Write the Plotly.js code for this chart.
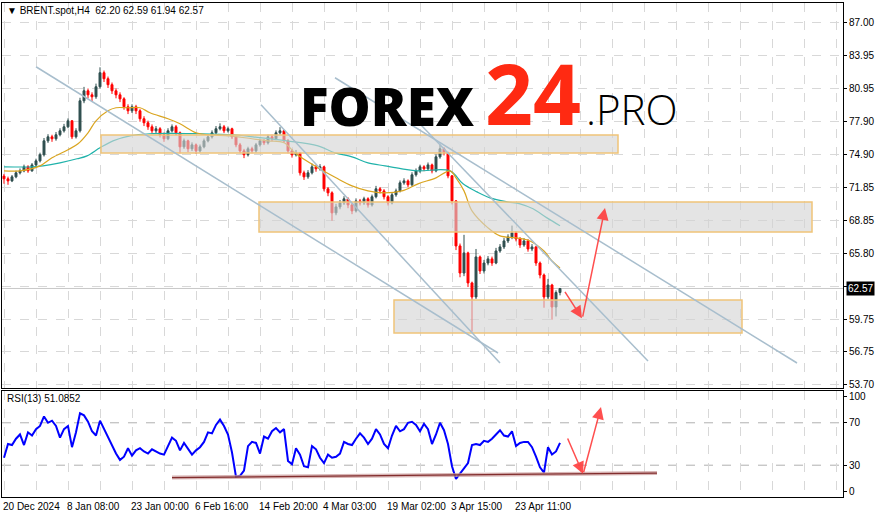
<!DOCTYPE html>
<html><head><meta charset="utf-8">
<script src="https://cdn.plot.ly/plotly-3.0.1.min.js"></script>
<style>html,body{margin:0;padding:0;background:#fff}#chart{width:883px;height:518px}</style>
</head><body><div id="chart"></div>
<script>
// ---- data ----
const opens = [72.90,72.65,72.46,72.83,73.20,73.38,73.75,73.38,73.93,74.30,
74.86,76.14,76.51,76.33,76.70,77.06,77.43,77.98,76.51,77.06,
79.82,80.74,80.37,80.19,81.11,82.40,81.85,81.30,80.74,80.37,
80.00,79.27,78.90,79.27,78.90,78.17,77.80,77.43,77.06,77.25,
76.70,76.33,77.06,77.43,76.88,75.59,76.14,75.41,75.77,75.22,
75.59,76.14,76.51,76.88,77.25,77.43,77.06,77.25,76.51,75.77,
75.22,74.86,75.41,75.22,75.77,76.14,75.96,76.51,76.33,76.88,
77.06,76.14,75.22,74.86,75.04,73.20,72.83,73.20,73.75,73.57,
73.75,71.73,71.36,69.52,70.07,70.44,70.81,70.25,69.70,70.62,
70.44,70.81,70.25,71.00,71.73,71.54,71.00,70.44,71.18,71.54,
72.28,72.46,72.10,73.02,73.38,73.75,73.57,73.93,73.38,74.67,
75.41,75.04,72.92,70.62,66.48,63.99,65.84,63.08,61.79,65.47,
64.18,64.91,65.29,64.91,66.02,66.39,66.94,67.31,67.68,67.12,
66.57,66.94,66.20,66.39,64.91,63.81,61.79,62.89,60.87,62.20];
const closes = [72.65,72.46,72.83,73.20,73.38,73.75,73.38,73.93,74.30,74.86,
76.14,76.51,76.33,76.70,77.06,77.43,77.98,76.51,77.06,79.82,
80.74,80.37,80.19,81.11,82.40,81.85,81.30,80.74,80.37,80.00,
79.27,78.90,79.27,78.90,78.17,77.80,77.43,77.06,77.25,76.70,
76.33,77.06,77.43,76.88,75.59,76.14,75.41,75.77,75.22,75.59,
76.14,76.51,76.88,77.25,77.43,77.06,77.25,76.51,75.77,75.22,
74.86,75.41,75.22,75.77,76.14,75.96,76.51,76.33,76.88,77.06,
76.14,75.22,74.86,75.04,73.20,72.83,73.20,73.75,73.57,73.75,
71.73,71.36,69.52,70.07,70.44,70.81,70.25,69.70,70.62,70.44,
70.81,70.25,71.00,71.73,71.54,71.00,70.44,71.18,71.54,72.28,
72.46,72.10,73.02,73.38,73.75,73.57,73.93,73.38,74.67,75.41,
75.04,72.92,70.62,66.48,63.99,65.84,63.08,61.79,65.47,64.18,
64.91,65.29,64.91,66.02,66.39,66.94,67.31,67.68,67.12,66.57,
66.94,66.20,66.39,64.91,63.81,61.79,62.89,60.87,62.20,62.57];
const highs = [73.10,72.85,73.00,73.40,73.60,73.95,73.90,74.10,74.50,75.05,
76.40,76.75,76.70,76.95,77.30,77.70,78.20,78.05,77.30,80.10,
81.10,80.95,80.60,81.40,82.90,82.60,82.05,81.50,80.95,80.60,
80.15,79.50,79.50,79.45,79.05,78.40,78.00,77.65,77.50,77.40,
76.90,77.30,77.65,77.60,77.00,76.35,76.25,76.00,75.90,75.80,
76.35,76.75,77.10,77.50,77.75,77.60,77.45,77.35,76.65,75.95,
75.40,75.60,75.60,75.95,76.35,76.30,76.70,76.70,77.10,77.40,
77.15,76.30,75.40,75.30,75.10,73.40,73.45,74.05,73.95,74.00,
73.85,71.90,71.50,70.35,70.70,71.05,70.95,70.40,70.85,70.80,
71.00,70.95,71.20,72.00,71.90,71.70,71.15,71.40,71.75,72.50,
72.70,72.60,73.25,73.60,73.95,73.90,74.15,74.05,74.90,75.80,
75.55,75.15,73.00,70.70,66.70,67.50,65.95,63.20,66.20,65.60,
65.20,65.55,65.50,66.30,66.65,67.20,67.55,68.35,67.85,67.30,
67.20,67.10,66.65,66.50,65.05,63.95,63.45,63.00,62.40,62.59];
const lows = [72.20,72.10,72.35,72.70,73.05,73.25,73.20,73.30,73.80,74.15,
74.70,75.95,76.05,76.15,76.55,76.90,77.30,76.30,76.35,76.90,
79.60,80.05,79.80,80.00,80.95,81.55,81.00,80.45,80.05,79.70,
79.00,78.60,78.70,78.60,77.90,77.50,77.15,76.80,76.85,76.45,
76.05,76.20,76.90,76.65,75.00,75.40,75.10,75.20,74.95,75.05,
75.45,76.00,76.35,76.75,77.10,76.85,76.90,76.30,75.55,75.00,
74.55,74.70,75.00,75.05,75.60,75.75,75.80,76.10,76.20,76.70,
75.95,75.00,74.60,74.70,72.95,72.55,72.65,73.05,73.30,73.40,
71.50,71.05,68.80,69.30,69.85,70.25,69.95,69.40,69.55,70.20,
70.25,70.00,70.10,70.85,71.30,70.75,70.20,70.30,71.00,71.40,
72.10,71.85,71.95,72.85,73.20,73.35,73.40,73.15,73.25,74.50,
74.80,72.70,70.30,66.10,63.60,63.70,62.70,58.60,61.60,63.90,
63.95,64.70,64.65,64.80,65.85,66.20,66.75,67.10,66.90,66.30,
66.40,65.95,66.00,64.65,63.50,60.80,61.60,59.70,60.00,61.94];
const rsi = [37,50,49,55,59,49,61,58,64,67,
76,70,72,67,56,64,67,47,61,79,
77,71,62,58,72,64,56,48,41,35,
38,46,39,44,46,43,41,45,43,41,
40,48,56,53,44,51,45,40,44,47,
52,61,60,68,73,67,59,42,19,20,
25,48,52,51,41,57,55,62,65,61,
64,34,31,46,40,29,28,48,45,37,
32,40,37,38,41,52,50,49,55,60,
56,50,55,64,59,50,46,58,67,62,
64,70,71,68,62,69,64,50,59,70,
63,50,29,17,22,27,32,49,50,49,
53,52,55,59,63,58,57,62,48,51,
52,52,47,38,28,23,47,40,43,51.09];
// moving averages read at points (bar index, price)
const maFastX = [0,4,9,12,16,18.5,21,23,26,28,31,34,36.5,41,44,48,51,56.5,62,66,70,73,78.5,83,87,91,95,99.5,103.5,108,111.5,113,115,117,121,124,128,131.5,135,137,139];
const maFastY = [73.38,73.38,73.84,74.58,75.32,75.87,76.88,77.98,78.90,79.18,79.18,79.18,78.72,78.17,77.71,76.88,76.70,76.60,76.33,76.14,75.96,74.95,73.66,72.74,72.00,71.54,71.36,71.54,72.19,72.74,73.38,72.74,71.54,69.70,68.14,67.40,67.22,66.94,66.02,65.10,64.46];
const maSlowX = [0,7.25,9.75,14,18.25,20.75,24,27.25,31.5,36.5,49,57.25,62.25,70.75,78.5,82.75,87,91,95.25,99.5,103.5,111.5,114.75,118.25,121.5,125.75,129,132.25,135.75,139];
const maSlowY = [73.75,73.75,73.84,74.12,74.49,74.76,75.50,76.14,76.60,76.79,76.79,76.70,76.51,76.14,75.68,75.04,74.67,74.12,73.84,73.57,73.38,73.38,72.19,71.45,70.90,70.53,70.35,69.89,69.06,68.33];
const priceTicks = [87.00,83.95,80.95,77.90,74.90,71.85,68.85,65.80,62.75,59.75,56.75,53.70];
const priceTickText = ['87.00','83.95','80.95','77.90','74.90','71.85','68.85','65.80','','59.75','56.75','53.70'];
const dateTickBars = [0,16,32,48,64,80,96,112,128];
const dateTickText = ['20 Dec 2024','8 Jan 08:00','23 Jan 00:00','6 Feb 16:00','14 Feb 20:00','4 Mar 03:00','19 Mar 02:00','3 Apr 15:00','23 Apr 11:00'];
const lastPrice = 62.57;
// analysis drawings: zones [x0,x1,y0,y1], trend lines [x0,y0,x1,y1]
const zones = [[24.25,153.5,75.02,76.68],[63.75,202,67.76,70.52],[97.5,184.5,58.48,61.51]];
const trendLines = [[8,82.95,123.5,56.64],[64.25,79.46,124,55.72],[102.75,78.17,161,55.9],[82.75,81.94,198.25,55.72]];

const bars = opens.map((_, i) => i);
const FONT = 'Liberation Sans, Arial, sans-serif';

const traces = [
  {type:'candlestick', x:bars, open:opens, high:highs, low:lows, close:closes, xaxis:'x', yaxis:'y',
   increasing:{line:{color:'#2f4f4f', width:1}, fillcolor:'#2f4f4f'},
   decreasing:{line:{color:'#ff0000', width:1}, fillcolor:'#ff0000'},
   whiskerwidth:0, hoverinfo:'skip', showlegend:false},
  {type:'scatter', mode:'lines', x:maSlowX, y:maSlowY, xaxis:'x', yaxis:'y', line:{color:'#20b2aa', width:1.2, shape:'spline'}, hoverinfo:'skip'},
  {type:'scatter', mode:'lines', x:maFastX, y:maFastY, xaxis:'x', yaxis:'y', line:{color:'#daa520', width:1.2, shape:'spline'}, hoverinfo:'skip'},
  {type:'scatter', mode:'lines', x:bars, y:rsi, xaxis:'x2', yaxis:'y2', line:{color:'#0000ff', width:2}, hoverinfo:'skip'}
];

const shapes = [];
shapes.push({type:'line', xref:'x', yref:'y', x0:-0.5, x1:209.75, y0:lastPrice, y1:lastPrice, line:{color:'#c8c8c8', width:1}, layer:'below'});
zones.forEach(z => shapes.push({type:'rect', xref:'x', yref:'y', x0:z[0], x1:z[1], y0:z[2], y1:z[3],
  fillcolor:'rgba(212,212,212,0.62)', line:{color:'rgb(240,196,120)', width:1.5}, layer:'above'}));
trendLines.forEach(t => shapes.push({type:'line', xref:'x', yref:'y', x0:t[0], y0:t[1], x1:t[2], y1:t[3],
  line:{color:'rgb(168,190,205)', width:1.5}, layer:'above'}));
[30,70].forEach(v => shapes.push({type:'line', xref:'x2', yref:'y2', x0:-0.5, x1:209.75, y0:v, y1:v, line:{color:'#b0b0b0', width:1, dash:'dash'}, layer:'below'}));
shapes.push({type:'line', xref:'x2', yref:'y2', x0:42, y0:18.3, x1:163.25, y1:22.6, line:{color:'rgba(200,150,150,0.7)', width:4}});
shapes.push({type:'line', xref:'x2', yref:'y2', x0:42, y0:18.3, x1:163.25, y1:22.6, line:{color:'rgb(130,45,45)', width:1.2}});

const annotations = [];
const arrowStyle = {showarrow:true, arrowhead:2, arrowsize:1.6, arrowwidth:1.5, arrowcolor:'rgba(255,60,60,0.9)', text:''};
annotations.push(Object.assign({xref:'x', yref:'y', axref:'x', ayref:'y', x:144.5, y:59.84, ax:140, ay:62.4}, arrowStyle));
annotations.push(Object.assign({xref:'x', yref:'y', axref:'x', ayref:'y', x:150.25, y:69.97, ax:144.6, ay:59.84}, arrowStyle));
annotations.push(Object.assign({xref:'x2', yref:'y2', axref:'x2', ayref:'y2', x:144.75, y:21.9, ax:140.75, ay:56.6}, arrowStyle));
annotations.push(Object.assign({xref:'x2', yref:'y2', axref:'x2', ayref:'y2', x:149.25, y:84.8, ax:144.8, ay:21.9}, arrowStyle));
dateTickBars.forEach((b, i) => annotations.push({xref:'x2', yref:'paper', x:b, y:-0.0202, xanchor:'left', yanchor:'middle', xshift:-3,
  text:dateTickText[i], showarrow:false, font:{family:FONT, size:10, color:'#000'}}));
annotations.push({xref:'paper', yref:'paper', x:0.003, y:0.984, xanchor:'left', yanchor:'middle', showarrow:false,
  text:'▼ BRENT.spot,H4  62.20 62.59 61.94 62.57', font:{family:FONT, size:10, color:'#000'}});
annotations.push({xref:'paper', yref:'paper', x:0.003, y:0.2004, xanchor:'left', yanchor:'middle', showarrow:false,
  text:'RSI(13) 51.0852', font:{family:FONT, size:10, color:'#000'}});
annotations.push({xref:'paper', yref:'y', x:1.003, y:lastPrice, xanchor:'left', yanchor:'middle', showarrow:false,
  text:'62.57', bgcolor:'#000', borderpad:1, font:{family:FONT, size:10, color:'#fff'}});
annotations.push({xref:'paper', yref:'paper', x:0.4578, y:0.7935, xanchor:'center', yanchor:'middle', showarrow:false,
  text:'FOREX', font:{family:'Open Sans', size:53, weight:800, color:'#000'}});
annotations.push({xref:'paper', yref:'paper', x:0.6308, y:0.819, xanchor:'center', yanchor:'middle', showarrow:false,
  text:'24', font:{family:'Open Sans', size:84, weight:700, color:'#ff2a12'}});
annotations.push({xref:'paper', yref:'paper', x:0.749, y:0.786, xanchor:'center', yanchor:'middle', showarrow:false,
  text:'.PRO', font:{family:'Open Sans', size:42, weight:300, color:'#000'}});

const gridX = {tickmode:'linear', tick0:0, dtick:8, showgrid:true, gridcolor:'#d8d8d8', griddash:'dash', gridwidth:1,
  showticklabels:false, ticks:'', zeroline:false, showline:true, linecolor:'#000', linewidth:1, mirror:true, range:[-0.5,209.75], fixedrange:true};

const layout = {
  width:883, height:518, margin:{l:2, r:40, t:3, b:21}, paper_bgcolor:'#fff', plot_bgcolor:'#fff', showlegend:false,
  font:{family:FONT, size:10, color:'#000'},
  xaxis:Object.assign({}, gridX, {domain:[0,1], anchor:'y', rangeslider:{visible:false}}),
  xaxis2:Object.assign({}, gridX, {domain:[0,1], anchor:'y2', matches:'x'}),
  yaxis:{domain:[0.2206,1], anchor:'x', side:'right', range:[53.42,88.81], tickmode:'array', tickvals:priceTicks, ticktext:priceTickText,
    showgrid:true, gridcolor:'#d8d8d8', griddash:'dash', zeroline:false, showline:true, linecolor:'#000', mirror:true,
    ticks:'outside', ticklen:3, tickcolor:'#000', tickfont:{family:FONT, size:10}, fixedrange:true},
  yaxis2:{domain:[0,0.2146], anchor:'x2', side:'right', range:[0,100], tickmode:'array', tickvals:[94.5,70,30,5.5], ticktext:['100','70','30','0'],
    showgrid:false, zeroline:false, showline:true, linecolor:'#000', mirror:true,
    ticks:'outside', ticklen:3, tickcolor:'#000', tickfont:{family:FONT, size:10}, fixedrange:true},
  shapes:shapes, annotations:annotations
};
Plotly.newPlot('chart', traces, layout, {staticPlot:true, displayModeBar:false});
</script></body></html>
